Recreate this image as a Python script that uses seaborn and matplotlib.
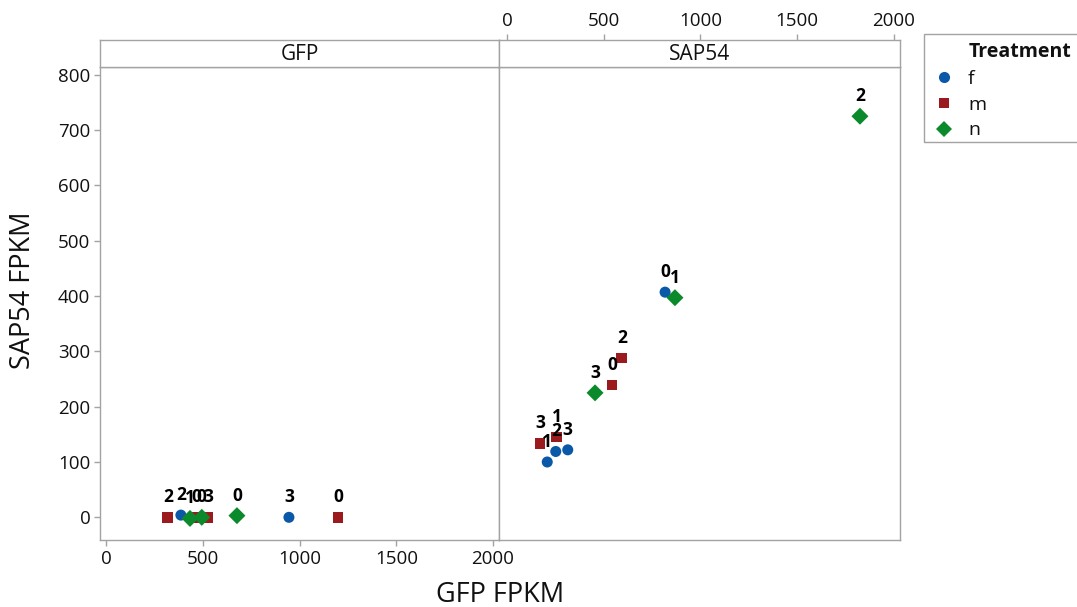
import numpy as np
import pandas as pd
import matplotlib
matplotlib.use("Agg")
import matplotlib.pyplot as plt
import seaborn as sns
from matplotlib.lines import Line2D
from matplotlib.patches import Rectangle

# ---------------- data ----------------
panels = ["GFP", "SAP54"]
treatments = ["f", "m", "n"]

gfp_treat = ["f", "f", "m", "m", "m", "m", "n", "n", "n"]
gfp_x = [385, 944, 317, 467, 525, 1198, 432, 493, 675]
gfp_y = [4, 0, 0, 0, 0, 0, -2, 0, 3]
gfp_lab = ["2", "3", "2", "0", "3", "0", "1", "0", "0"]

sap_treat = ["f", "f", "f", "f", "m", "m", "m", "m", "n", "n", "n"]
sap_x = [817, 208, 252, 314, 543, 257, 593, 170, 868, 1824, 455]
sap_y = [407, 100, 119, 122, 239, 145, 288, 134, 397, 725, 225]
sap_lab = ["0", "1", "2", "3", "0", "1", "2", "3", "1", "2", "3"]

x_ticks = [0, 500, 1000, 1500, 2000]
y_ticks = [0, 100, 200, 300, 400, 500, 600, 700, 800]

colors = ["#0A58A8", "#9A1A1D", "#0B8A2C"]
# --------------------------------------

dfL = pd.DataFrame({"GFP": gfp_x, "SAP54": gfp_y, "Treatment": gfp_treat, "lab": gfp_lab})
dfR = pd.DataFrame({"GFP": sap_x, "SAP54": sap_y, "Treatment": sap_treat, "lab": sap_lab})

W, H = 1077, 607
sns.set_style("white")
plt.rcParams["font.family"] = ["Open Sans", "DejaVu Sans"]
GRAY = "#a3a3a3"

fig = plt.figure(figsize=(W / 100, H / 100), dpi=100)


def fx(px):
    return px / W


def fy(py):
    return 1 - py / H


axL = fig.add_axes([fx(100), fy(540), (499 - 100) / W, (540 - 67) / H])
axR = fig.add_axes([fx(499), fy(540), (900 - 499) / W, (540 - 67) / H])
sL = fig.add_axes([fx(100), fy(67), (499 - 100) / W, 27 / H])
sR = fig.add_axes([fx(499), fy(67), (900 - 499) / W, 27 / H])

palette = dict(zip(treatments, colors))
markers = dict(zip(treatments, ["o", "s", "D"]))
sizes = dict(zip(treatments, [63, 60, 75]))

for ax, df in [(axL, dfL), (axR, dfR)]:
    df = df.assign(order=df["Treatment"].map({t: i for i, t in enumerate(treatments)}))
    df = df.sort_values("order", kind="stable")
    sns.scatterplot(data=df, x="GFP", y="SAP54", hue="Treatment", style="Treatment",
                    size="Treatment", hue_order=treatments, style_order=treatments,
                    size_order=treatments, palette=palette, markers=markers, sizes=sizes,
                    linewidth=0, legend=False, ax=ax, zorder=3)
    for _, r in df.iterrows():
        ax.annotate(r["lab"], (r["GFP"], r["SAP54"]), xytext=(0, 14.5),
                    textcoords="offset points", ha="center", va="center",
                    fontsize=12.5, fontweight="bold", color="black", zorder=5)
    ax.set_xlabel("")
    ax.set_ylabel("")
    ax.set_ylim(-41, 814)
    for sp in ax.spines.values():
        sp.set_color(GRAY)
        sp.set_linewidth(1.0)

axL.set_xlim(-33.6, 2031)
axR.set_xlim(-41.3, 2031)
axL.set_xticks(x_ticks)
axL.set_yticks(y_ticks)
axL.tick_params(axis="both", direction="out", length=4.5, width=1, color=GRAY,
                labelsize=13.5, pad=2.5, labelcolor="#111111",
                bottom=True, left=True)
axR.tick_params(bottom=False, left=False, labelbottom=False, labelleft=False)

for s, name, xl in [(sL, panels[0], (-33.6, 2031)), (sR, panels[1], (-41.3, 2031))]:
    s.set_xlim(*xl)
    s.set_ylim(0, 1)
    s.set_yticks([])
    s.set_facecolor("white")
    for sp in s.spines.values():
        sp.set_color(GRAY)
        sp.set_linewidth(1.0)
    s.text(0.5, 0.48, name, transform=s.transAxes, ha="center", va="center",
           fontsize=15, color="#111111")

sL.set_xticks([])
sR.xaxis.tick_top()
sR.set_xticks(x_ticks)
sR.tick_params(axis="x", top=True, bottom=False, direction="out", length=4.5, width=1,
               color=GRAY, labelsize=13.5, pad=2.5, labelcolor="#111111")

fig.text(fx(500), fy(595), "GFP FPKM", ha="center", va="center", fontsize=19.5, color="#111111")
fig.text(fx(23), fy(290), "SAP54 FPKM", ha="center", va="center", rotation=90,
         fontsize=19.5, color="#111111")

# legend
fig.add_artist(Rectangle((fx(924), fy(142)), (1110 - 924) / W, (142 - 34) / H,
                         transform=fig.transFigure, fill=False, edgecolor=GRAY, lw=1.0))
handles = [Line2D([], [], color="none")]
handles += [Line2D([], [], linestyle="", marker=m, color=c, markeredgewidth=0, markersize=ms)
            for m, c, ms in zip(["o", "s", "D"], colors, [8.0, 7.7, 8.6])]
leg = fig.legend(handles=handles, labels=["Treatment"] + treatments, loc="upper left",
                 bbox_to_anchor=(fx(934.3), fy(42)), frameon=False, fontsize=14,
                 handlelength=1.0, handletextpad=0.74, borderpad=0, borderaxespad=0,
                 labelspacing=0.4)
leg.get_texts()[0].set_fontweight("bold")
for t in leg.get_texts():
    t.set_color("#111111")

fig.savefig("out.png", dpi=100)
